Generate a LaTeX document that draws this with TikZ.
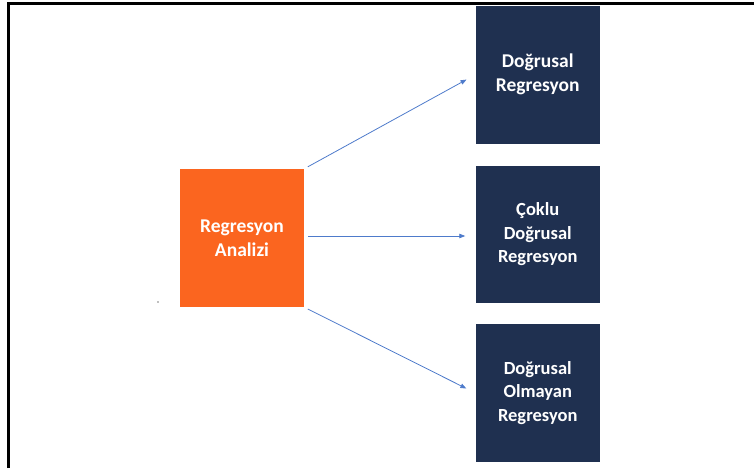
\documentclass[tikz,border=0pt]{standalone}
\usepackage{fontspec}
\setmainfont{Carlito}
\usetikzlibrary{arrows.meta}

\definecolor{orangebox}{HTML}{FB651F}
\definecolor{navybox}{HTML}{1F3050}
\definecolor{arrowblue}{HTML}{4E7BCB}

\tikzset{
  mainbox/.style={fill=orangebox, text=white, font=\bfseries\fontsize{19.5}{24}\selectfont,
    minimum width=124pt, minimum height=138pt, text width=110pt, align=center, inner sep=0pt},
  typebox/.style={fill=navybox, text=white, font=\bfseries\fontsize{18.5}{23.5}\selectfont,
    minimum width=124.5pt, minimum height=137.5pt, text width=110pt, align=center, inner sep=0pt},
  flow/.style={draw=arrowblue, line width=0.8pt, -{Triangle[length=6pt,width=4.5pt]},
    shorten <=4pt, shorten >=10pt}
}

\begin{document}
\begin{tikzpicture}[x=1pt, y=-1pt]
        \useasboundingbox (0,0) rectangle (754,468);
        % frame
        \draw[line width=2.2pt] (8.5,468) -- (8.5,3.5) -- (754,3.5);

        \node[mainbox] (analiz) at (242,238) {Regresyon\\Analizi};
        \node[typebox, font=\bfseries\fontsize{19.5}{24}\selectfont] (dogrusal) at (537.75,74.75) {Do\u{g}rusal\\Regresyon};
        \node[typebox] (coklu) at (537.75,234.25) {Çoklu\\Do\u{g}rusal\\Regresyon};
        \node[typebox] (dogrusalolm) at (537.75,393) {Do\u{g}rusal\\Olmayan\\Regresyon};

        \draw[flow] (analiz.north east) -- (dogrusal.west);
        \draw[flow] ([yshift=2pt]analiz.east) -- ([yshift=2pt]analiz.east -| coklu.west);
        \draw[flow] (analiz.south east) -- (dogrusalolm.west);
        % stray dot
        \fill[gray] (158,302) circle (0.9);
        \end{tikzpicture}
\end{document}
